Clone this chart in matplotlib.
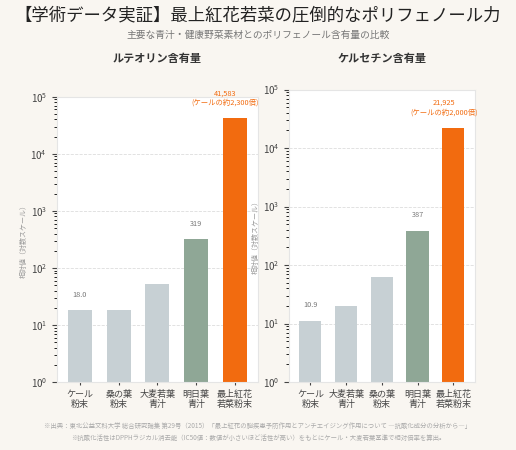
import numpy as np
import matplotlib.pyplot as plt

plt.rcParams['font.family'] = ['Noto Sans CJK JP', 'DejaVu Sans']

lut_labels = ['ケール\n粉末', '桑の葉\n粉末', '大麦若葉\n青汁', '明日葉\n青汁', '最上紅花\n若菜粉末']
lut_values = [18.0, 18.5, 52, 319, 41583]
que_labels = ['ケール\n粉末', '大麦若葉\n青汁', '桑の葉\n粉末', '明日葉\n青汁', '最上紅花\n若菜粉末']
que_values = [10.9, 20, 62, 387, 21925]
lut_shown = ['18.0', None, None, '319', '41,583\n(ケールの約2,300倍)']
que_shown = ['10.9', None, None, '387', '21,925\n(ケールの約2,000倍)']
colors = ['#c7d0d4', '#c7d0d4', '#c7d0d4', '#8fa796', '#f26b0f']

bg = '#f9f6f1'
fig = plt.figure(figsize=(5.16, 4.5), dpi=100, facecolor=bg)
fig.text(0.5, 0.965, '【学術データ実証】最上紅花若菜の圧倒的なポリフェノール力', ha='center', va='center', fontsize=12.5, color='#222222')
fig.text(0.5, 0.922, '主要な青汁・健康野菜素材とのポリフェノール含有量の比較', ha='center', va='center', fontsize=7, color='#777777')
fig.text(0.5, 0.048, '※出典：東北公益文科大学 総合研究論集 第29号（2015）「最上紅花の脳疾患予防作用とアンチエイジング作用について ―抗酸化成分の分析から―」', ha='center', fontsize=4.6, color='#aaaaaa')
fig.text(0.5, 0.022, '※抗酸化活性はDPPHラジカル消去能（IC50値：数値が小さいほど活性が高い）をもとにケール・大麦若葉基準で相対倍率を算出。', ha='center', fontsize=4.6, color='#aaaaaa')

panels = [
    ([0.11, 0.151, 0.39, 0.634], 'ルテオリン含有量', lut_labels, lut_values, lut_shown),
    ([0.56, 0.151, 0.36, 0.65], 'ケルセチン含有量', que_labels, que_values, que_shown),
]
for rect, title, labels, values, shown in panels:
    ax = fig.add_axes(rect, facecolor='white')
    x = np.arange(len(values))
    ax.bar(x, values, width=0.62, color=colors)
    ax.set_yscale('log')
    ax.set_ylim(1, 1e5)
    ax.set_xlim(-0.6, 4.6)
    ax.set_xticks(x)
    ax.set_xticklabels(labels, fontsize=6.5, color='#333333', linespacing=1.2)
    ax.tick_params(axis='y', labelsize=7, colors='#444444')
    ax.tick_params(axis='x', length=2, colors='#444444')
    ax.set_ylabel('相対値（対数スケール）', fontsize=5, color='#999999', labelpad=2)
    ax.grid(axis='y', color='#dddddd', linestyle='--', linewidth=0.6)
    ax.set_axisbelow(True)
    for s in ax.spines.values():
        s.set_color('#e5e5e5')
    for i, (v, t) in enumerate(zip(values, shown)):
        if t is None:
            continue
        col = '#f26b0f' if i == 4 else '#777777'
        ax.text(i - (0.25 if i == 4 else 0), v * 1.6, t, ha='center', va='bottom', fontsize=5.3, color=col, linespacing=1.2)
    fig.text(rect[0] + rect[2] / 2, 0.87, title, ha='center', va='center', fontsize=8, fontweight='bold', color='#333333')

fig.savefig('out.png', dpi=100, facecolor=bg)
